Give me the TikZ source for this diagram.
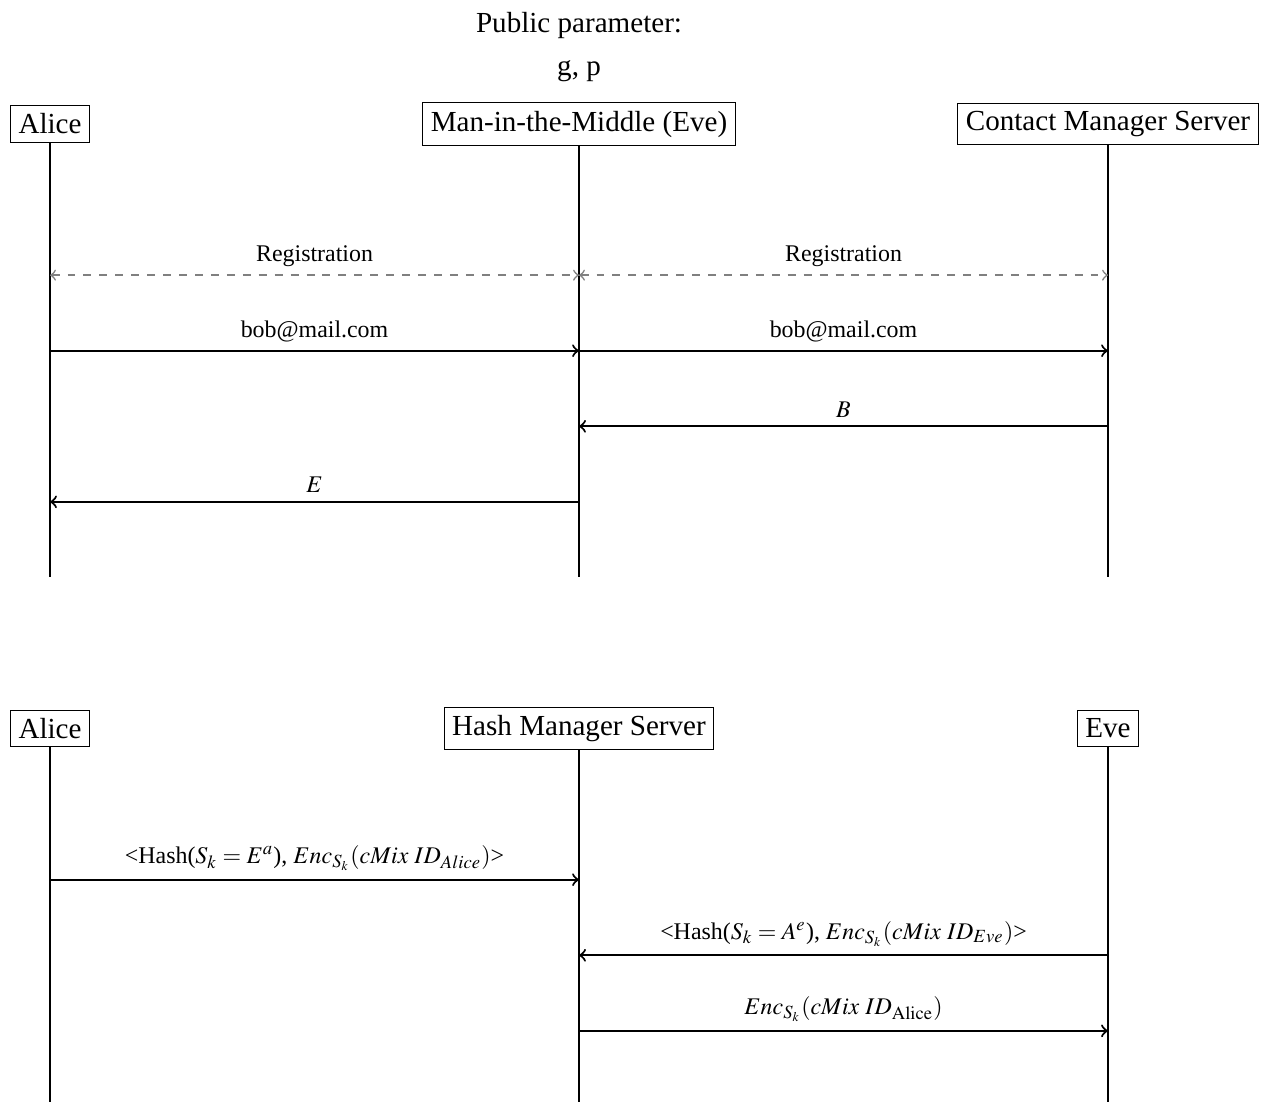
\documentclass[tikz,border=0pt]{standalone}
\usepackage{mathptmx}
\usepackage{fontspec}
\setmainfont{Liberation Serif}
\begin{document}
\begin{tikzpicture}[
    actor/.style={draw, fill=white, font=\fontsize{10.95}{13}\selectfont},
    toptext/.style={font=\fontsize{10.95}{13}\selectfont},
    lifeline/.style={thick},
    msg/.style={thick, ->},
    reg/.style={gray, semithick, dashed, <->}]

  \small

  \newcommand\X{7cm}
  \newcommand\Y{1cm}

  \useasboundingbox (-0.662*\Y, 1.641*\Y) rectangle (16.17*\Y, -12.942*\Y);

  \node[toptext] (pub) at (1*\X, 1.31*\Y) {Public parameter:};
  \node[toptext] (gp) at (1*\X, 0.70*\Y) {g, p};

  %% first exchange
  \node[actor] (alice) at (0*\X, 0*\Y) {Alice};
  \node[actor] (eve) at (1*\X, 0*\Y) {Man-in-the-Middle (Eve)};
  \node[actor] (cms) at (2*\X, 0*\Y) {Contact Manager Server};

  \coordinate (aliceend) at (0*\X, -6*\Y);
  \coordinate (eveend) at (1*\X, -6*\Y);
  \coordinate (cmsend) at (2*\X, -6*\Y);

  \draw[lifeline] (alice) -- (aliceend);
  \draw[lifeline] (eve) -- (eveend);
  \draw[lifeline] (cms) -- (cmsend);

  \coordinate (r1) at (0, -2*\Y);
  \coordinate (r2) at (0, -3*\Y);
  \coordinate (r3) at (0, -4*\Y);
  \coordinate (r4) at (0, -5*\Y);

  \draw[reg] (alice |- r1) -- node[above, black]{Registration} (eve |- r1);
  \draw[reg] (eve |- r1) -- node[above, black]{Registration} (cms |- r1);
  \draw[msg] (alice |- r2) -- node[above]{bob@mail.com} (eve |- r2); %% Alice->Eve
  \draw[msg] (eve |- r2) -- node[above]{bob@mail.com} (cms |- r2); %% Eve->CMS
  \draw[msg] (cms |- r3) -- node[above]{$B$} (eve |- r3); %% CMS->Eve
  \draw[msg] (eve |- r4) -- node[above]{$E$} (alice |- r4); %% Eve->Alice

  %% second exchange
  \node[actor] (alicetwo) at (0*\X, -8*\Y) {Alice};
  \node[actor] (hms) at (1*\X, -8*\Y) {Hash Manager Server};
  \node[actor] (evetwo) at (2*\X, -8*\Y) {Eve};

  \coordinate (alicetwoend) at (0*\X, -12.942*\Y);
  \coordinate (hmsend) at (1*\X, -12.942*\Y);
  \coordinate (evetwoend) at (2*\X, -12.942*\Y);

  \draw[lifeline] (alicetwo) -- (alicetwoend);
  \draw[lifeline] (hms) -- (hmsend);
  \draw[lifeline] (evetwo) -- (evetwoend);

  \coordinate (r5) at (0, -10*\Y);
  \coordinate (r6) at (0, -11*\Y);
  \coordinate (r7) at (0, -12*\Y);

  \draw[msg] (alicetwo |- r5) -- node[above]{<Hash($S_k = E^a$), $Enc_{S_k}(cMix\ ID_{Alice})$>} (hms |- r5); %% Alice->HMS
  \draw[msg] (evetwo |- r6) -- node[above]{<Hash($S_k = A^e$), $Enc_{S_k}(cMix\ ID_{Eve})$>} (hms |- r6); %% Eve->HMS
  \draw[msg] (hms |- r7) -- node[above]{$Enc_{S_k}(cMix\ ID_{\mathrm{Alice}})$} (evetwo |- r7); %% HMS->Eve
\end{tikzpicture}
\end{document}
